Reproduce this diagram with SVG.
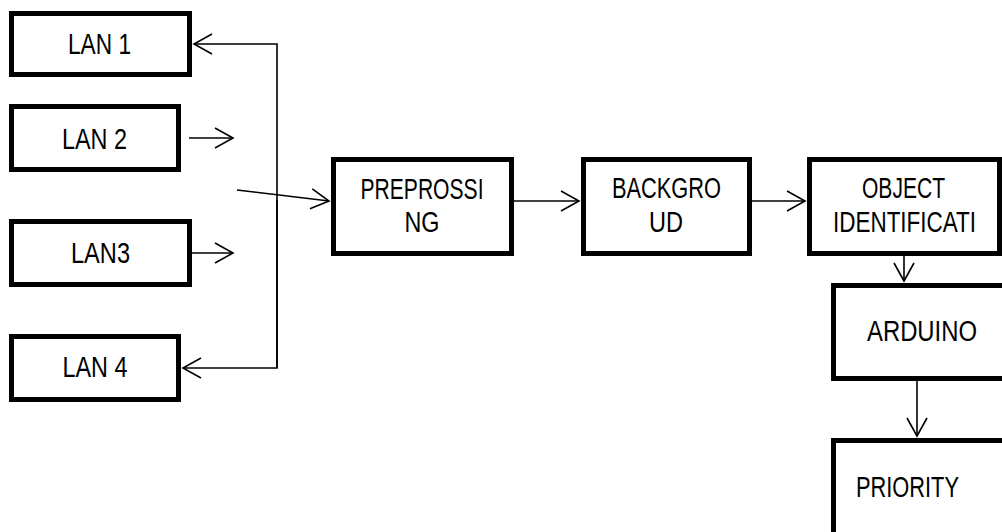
<svg xmlns="http://www.w3.org/2000/svg" width="1002" height="532" viewBox="0 0 1002 532">
<style>
.box{fill:#fff;stroke:#000;stroke-width:5}
.lbl{font-family:"Liberation Sans",Arial,sans-serif;font-size:29px;fill:#000;text-anchor:middle}
.ln{fill:none;stroke:#000;stroke-width:1.6}
</style>
<defs>
<marker id="arr" markerUnits="userSpaceOnUse" markerWidth="24" markerHeight="24" viewBox="-20 -12 24 24" refX="0" refY="0" orient="auto">
<path d="M-18,-10 L0,0 L-18,10" fill="none" stroke="#000" stroke-width="1.6"/>
</marker>
</defs>
<rect width="1002" height="532" fill="#fff"/>
<g id="connectors">
<polyline class="ln" points="277,368 277,44 194,44" marker-end="url(#arr)"/>
<polyline class="ln" points="277,200 277,368 183,368" marker-end="url(#arr)"/>
<line class="ln" x1="189" y1="138" x2="233" y2="138" marker-end="url(#arr)"/>
<line class="ln" x1="192" y1="253" x2="233" y2="253" marker-end="url(#arr)"/>
<line class="ln" x1="237" y1="190" x2="329" y2="201" marker-end="url(#arr)"/>
<line class="ln" x1="514" y1="201" x2="579" y2="201" marker-end="url(#arr)"/>
<line class="ln" x1="752" y1="201" x2="805" y2="201" marker-end="url(#arr)"/>
<line class="ln" x1="904" y1="256" x2="904" y2="281" marker-end="url(#arr)"/>
<line class="ln" x1="917" y1="381" x2="917" y2="436" marker-end="url(#arr)"/>
</g>
<g id="lan1"><rect class="box" x="11.5" y="13.5" width="178" height="61"/><text class="lbl" x="99.5" y="54" textLength="63" lengthAdjust="spacingAndGlyphs">LAN 1</text></g>
<g id="lan2"><rect class="box" x="11.5" y="106.5" width="167" height="63"/><text class="lbl" x="94.5" y="149" textLength="65" lengthAdjust="spacingAndGlyphs">LAN 2</text></g>
<g id="lan3"><rect class="box" x="11.5" y="221.5" width="178" height="63"/><text class="lbl" x="100.5" y="263" textLength="59" lengthAdjust="spacingAndGlyphs">LAN3</text></g>
<g id="lan4"><rect class="box" x="11.5" y="336.5" width="167" height="63"/><text class="lbl" x="95" y="377" textLength="65" lengthAdjust="spacingAndGlyphs">LAN 4</text></g>
<g id="preprocessing"><rect class="box" x="333.5" y="159.5" width="178" height="94"/><text class="lbl" x="422" y="199" textLength="123" lengthAdjust="spacingAndGlyphs">PREPROSSI</text><text class="lbl" x="422" y="232" textLength="35" lengthAdjust="spacingAndGlyphs">NG</text></g>
<g id="background"><rect class="box" x="583.5" y="159.5" width="166" height="94"/><text class="lbl" x="666.5" y="198" textLength="109" lengthAdjust="spacingAndGlyphs">BACKGRO</text><text class="lbl" x="666" y="232" textLength="34" lengthAdjust="spacingAndGlyphs">UD</text></g>
<g id="object"><rect class="box" x="809.5" y="159.5" width="190" height="94"/><text class="lbl" x="903.5" y="198" textLength="83" lengthAdjust="spacingAndGlyphs">OBJECT</text><text class="lbl" x="904.5" y="232" textLength="143" lengthAdjust="spacingAndGlyphs">IDENTIFICATI</text></g>
<g id="arduino"><rect class="box" x="833.5" y="285.5" width="200" height="93"/><text class="lbl" x="922" y="341" textLength="110" lengthAdjust="spacingAndGlyphs">ARDUINO</text></g>
<g id="priority"><rect class="box" x="833.5" y="440.5" width="200" height="120"/><text class="lbl" x="856" y="497" style="text-anchor:start" textLength="103" lengthAdjust="spacingAndGlyphs">PRIORITY</text></g>
</svg>
